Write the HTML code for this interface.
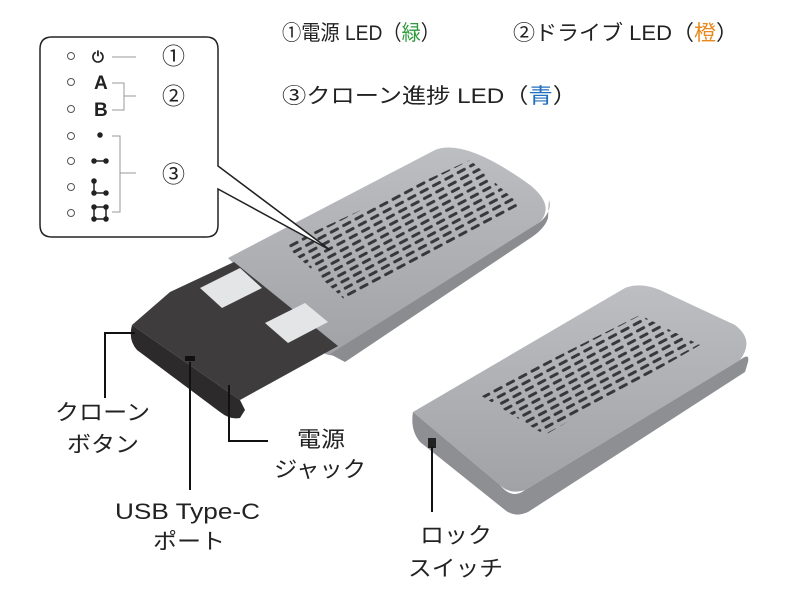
<!DOCTYPE html>
<html><head><meta charset="utf-8"><style>
html,body{margin:0;padding:0;background:#fff;}
svg text{font-family:"Liberation Sans","Noto Sans CJK JP",sans-serif;}
</style></head><body>
<svg width="800" height="600" viewBox="0 0 800 600" xmlns="http://www.w3.org/2000/svg">
<defs>
<linearGradient id="g1" x1="0" y1="0" x2="0" y2="1"><stop offset="0" stop-color="#bcbec2"/><stop offset="1" stop-color="#a0a2a6"/></linearGradient>
<pattern id="vent" width="14" height="7" patternUnits="userSpaceOnUse" patternTransform="rotate(-28)">
<rect x="0" y="2" width="10" height="3" rx="1.5" fill="#2a2a2e"/></pattern>
</defs>
<g font-size="21" fill="#222">
<text x="282" y="40" textLength="158" lengthAdjust="spacingAndGlyphs">①電源 LED（<tspan fill="#2e9a3c">緑</tspan>）</text>
<text x="513" y="40" textLength="225" lengthAdjust="spacingAndGlyphs">②ドライブ LED（<tspan fill="#e8891e">橙</tspan>）</text>
<text x="282" y="103" textLength="295" lengthAdjust="spacingAndGlyphs">③クローン進捗 LED（<tspan fill="#1f6fbf">青</tspan>）</text>
</g>
<!-- device 1 -->
<path d="M228,258 L435,150 Q465,138 530,185 Q555,205 540,222 L345,352 Q330,360 320,350 Z" fill="url(#g1)"/>
<path d="M330,354 L540,222 Q552,212 549,200 L548,218 Q545,228 532,237 L345,362 Z" fill="#8a8c90"/>
<path d="M285,245 L470,160 L520,205 L345,300 Z" fill="url(#vent)" opacity="0.9"/>
<path d="M170,292 L234,262 L338,346 L240,400 L132,325 Z" fill="#3e3c3d"/>
<path d="M132,325 L240,400 L245,410 L240,418 Q230,420 220,412 L137,350 Q128,340 132,325 Z" fill="#2c2a2b"/>
<path d="M200,288 L240,268 L262,288 L222,308 Z" fill="#e4e5e6"/>
<path d="M265,323 L305,303 L328,322 L288,343 Z" fill="#e4e5e6"/>
<rect x="185" y="356" width="10" height="5" fill="#111"/>
<!-- device 2 -->
<path d="M413,412 L625,288 Q640,282 660,290 L735,325 Q755,340 740,360 L525,490 Q510,495 500,485 Z" fill="url(#g1)"/>
<path d="M413,412 L500,485 Q512,500 525,490 L740,360 Q750,352 748,362 L745,372 L528,512 Q515,518 505,510 L420,442 Q410,430 413,412 Z" fill="#8d8f93"/>
<path d="M480,395 L640,315 L700,345 L545,435 Z" fill="url(#vent)" opacity="0.9"/>
<rect x="428" y="438" width="8" height="10" fill="#222"/>
<!-- callout box -->
<path d="M52,37 H206 Q218,37 218,49 V166 L330,250 L218,189 V225 Q218,237 206,237 H52 Q40,237 40,225 V49 Q40,37 52,37 Z" fill="#fff" stroke="#222" stroke-width="1.5"/>
<g fill="#fff" stroke="#555" stroke-width="1">
<circle cx="71" cy="56" r="3.5"/><circle cx="71" cy="82" r="3.5"/><circle cx="71" cy="109" r="3.5"/>
<circle cx="71" cy="136" r="3.5"/><circle cx="71" cy="161" r="3.5"/><circle cx="71" cy="187" r="3.5"/><circle cx="71" cy="213" r="3.5"/>
</g>
<g font-size="19" font-weight="bold" fill="#222">
<text x="94" y="89">A</text><text x="94" y="116">B</text>
</g>
<text x="92" y="62" font-size="15" font-weight="bold" fill="#222">⏻</text>
<g stroke="#999" stroke-width="1" fill="none">
<path d="M112,57 H136"/><path d="M112,83 H124 V110 H112 M124,96 H136"/>
<path d="M112,136 H120 V212 H112 M120,173 H136"/>
</g>
<g fill="#222" stroke="#222" stroke-width="1.5">
<circle cx="100" cy="135" r="2"/>
<circle cx="94" cy="161" r="2"/><circle cx="106" cy="161" r="2"/><line x1="94" y1="161" x2="106" y2="161"/>
<circle cx="94" cy="181" r="2"/><circle cx="94" cy="193" r="2"/><circle cx="106" cy="193" r="2"/><polyline points="94,181 94,193 106,193" fill="none"/>
<rect x="94" y="207" width="12" height="12" fill="none"/>
<circle cx="94" cy="207" r="2"/><circle cx="106" cy="207" r="2"/><circle cx="94" cy="219" r="2"/><circle cx="106" cy="219" r="2"/>
</g>
<g font-size="23" fill="#222">
<text x="162" y="64">①</text><text x="162" y="104">②</text><text x="162" y="182">③</text>
</g>
<g stroke="#111" stroke-width="2" fill="none">
<path d="M105,398 V333 H135"/>
<path d="M190,362 V490"/>
<path d="M229,385 V441 H268"/>
<path d="M432,447 V512"/>
</g>
<g font-size="22" fill="#222">
<text x="55" y="420" textLength="95" lengthAdjust="spacingAndGlyphs">クローン</text>
<text x="67" y="452" textLength="72" lengthAdjust="spacingAndGlyphs">ボタン</text>
<text x="297" y="447" textLength="48" lengthAdjust="spacingAndGlyphs">電源</text>
<text x="274" y="477" textLength="92" lengthAdjust="spacingAndGlyphs">ジャック</text>
<text x="115" y="519" textLength="145" lengthAdjust="spacingAndGlyphs">USB Type-C</text>
<text x="153" y="549" textLength="72" lengthAdjust="spacingAndGlyphs">ポート</text>
<text x="420" y="543" textLength="72" lengthAdjust="spacingAndGlyphs">ロック</text>
<text x="408" y="576" textLength="95" lengthAdjust="spacingAndGlyphs">スイッチ</text>
</g>
</svg>
</body></html>
